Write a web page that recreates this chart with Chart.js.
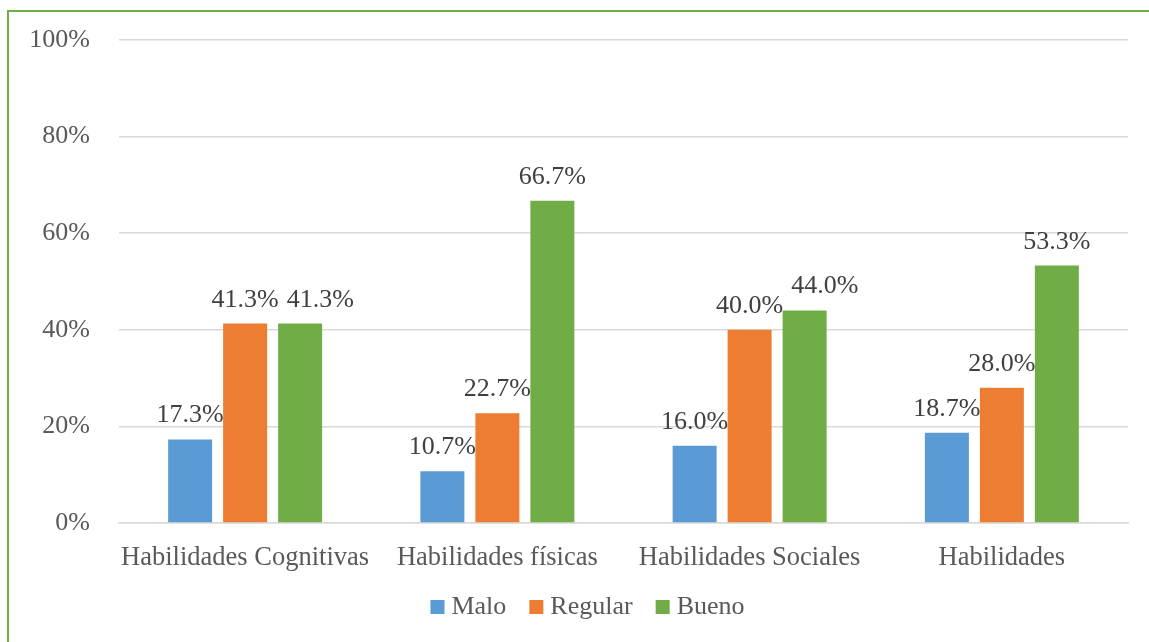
<!DOCTYPE html>
<html>
<head>
<meta charset="utf-8">
<script src="https://cdn.jsdelivr.net/npm/chart.js@4/dist/chart.umd.min.js"></script>
<style>
  html, body { margin: 0; padding: 0; background: #fff; overflow: hidden; }
  #wrap { position: relative; width: 1149px; height: 642px; }
  #marco {
    position: absolute; left: 7px; top: 10px; width: 1300px; height: 800px;
    border: 2px solid #70AD47; box-sizing: border-box;
  }
  #grafico { position: absolute; left: 0; top: 0; }
</style>
</head>
<body>
<div id="wrap">
  <div id="marco"></div>
  <canvas id="grafico" width="1149" height="642"></canvas>
</div>
<script>
// --- DATOS ---
const categorias = ['Habilidades Cognitivas', 'Habilidades físicas', 'Habilidades Sociales', 'Habilidades'];
const malo = [17.3, 10.7, 16.0, 18.7];
const regular = [41.3, 22.7, 40.0, 28.0];
const bueno = [41.3, 66.7, 44.0, 53.3];

const FUENTE = "'Liberation Serif', 'Times New Roman', serif";

// Etiquetas de valor encima de cada barra (se desplazan a la derecha si chocan con la anterior)
const etiquetasValor = {
    id: 'etiquetasValor',
    afterDatasetsDraw(chart) {
        const ctx = chart.ctx;
        ctx.save();
        ctx.font = `26px ${FUENTE}`;
        ctx.fillStyle = '#404040';
        ctx.textAlign = 'center';
        ctx.textBaseline = 'alphabetic';
        const alto = 20;
        chart.data.labels.forEach((_, j) => {
            let previa = null;
            chart.data.datasets.forEach((ds, i) => {
                const bar = chart.getDatasetMeta(i).data[j];
                const texto = ds.data[j].toFixed(1) + '%';
                const ancho = ctx.measureText(texto).width;
                let x = bar.x;
                const y = bar.y - 17;
                if (previa && Math.abs(previa.y - y) < alto && x - ancho / 2 < previa.derecha + 8) {
                    x = previa.derecha + 8 + ancho / 2;
                }
                ctx.fillText(texto, x, y);
                previa = { y: y, derecha: x + ancho / 2 };
            });
        });
        ctx.restore();
    }
};

// Leyenda abajo: cuadrito pegado al texto, estilo Excel
const leyenda = {
    id: 'leyenda',
    afterDraw(chart) {
        const ctx = chart.ctx;
        const caja = 14, hueco = 7, separacion = 23;
        ctx.save();
        ctx.font = `26px ${FUENTE}`;
        ctx.textBaseline = 'middle';
        ctx.textAlign = 'left';
        const items = chart.data.datasets.map(ds => ({
            texto: ds.label,
            color: ds.backgroundColor,
            ancho: ctx.measureText(ds.label).width
        }));
        const total = items.reduce((s, it) => s + caja + hueco + it.ancho, 0) + separacion * (items.length - 1);
        let x = chart.width / 2 + 13 - total / 2;
        const y = 607;
        items.forEach(it => {
            ctx.fillStyle = it.color;
            ctx.fillRect(x, y - caja / 2, caja, caja);
            x += caja + hueco;
            ctx.fillStyle = '#595959';
            ctx.fillText(it.texto, x, y);
            x += it.ancho + separacion;
        });
        ctx.restore();
    }
};

const ctx = document.getElementById('grafico').getContext('2d');
new Chart(ctx, {
    type: 'bar',
    data: {
        labels: categorias,
        datasets: [
            { label: 'Malo', data: malo, backgroundColor: '#5B9BD5' },
            { label: 'Regular', data: regular, backgroundColor: '#ED7D31' },
            { label: 'Bueno', data: bueno, backgroundColor: '#70AD47' }
        ]
    },
    options: {
        responsive: false,
        animation: false,
        layout: { padding: { top: 40, right: 21, left: 0, bottom: 68 } },
        datasets: {
            bar: { categoryPercentage: 0.654, barPercentage: 0.8 }
        },
        plugins: {
            legend: { display: false },
            tooltip: { enabled: false }
        },
        scales: {
            y: {
                min: 0,
                max: 100,
                ticks: {
                    stepSize: 20,
                    padding: 0,
                    color: '#595959',
                    font: { family: FUENTE, size: 26 },
                    callback: v => v + '%'
                },
                // marcas invisibles: solo separan las etiquetas del eje
                grid: { color: '#d9d9d9', lineWidth: 1.5, drawTicks: true, tickLength: 29, tickColor: 'rgba(0,0,0,0)' },
                border: { display: false },
                afterFit: s => { s.width = 119; }
            },
            x: {
                ticks: {
                    padding: 19,
                    color: '#595959',
                    font: { family: FUENTE, size: 26.5 },
                    maxRotation: 0
                },
                grid: { display: false, drawTicks: false },
                border: { color: '#d9d9d9', width: 1.5 },
                afterFit: s => { s.height = 51; }
            }
        }
    },
    plugins: [etiquetasValor, leyenda]
});
</script>
</body>
</html>
